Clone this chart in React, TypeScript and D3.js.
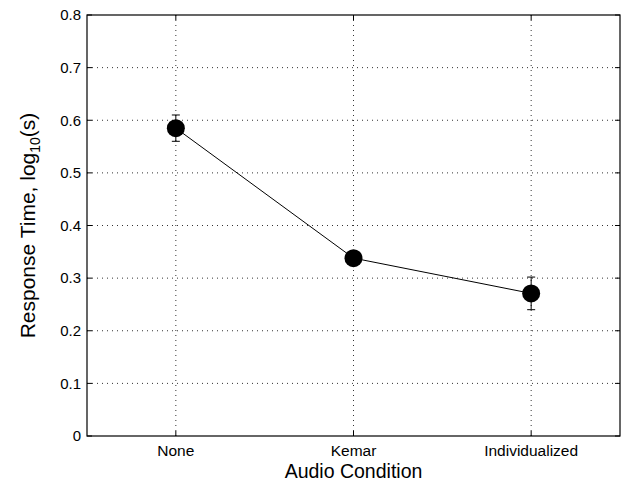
import * as React from "react";
import * as d3 from "d3";

const conditions = ["None", "Kemar", "Individualized"];
const meanRT = [0.585, 0.338, 0.271];
const errRT = [0.025, 0.006, 0.031];
const yTicks = [0, 0.1, 0.2, 0.3, 0.4, 0.5, 0.6, 0.7, 0.8];

const W = 622;
const H = 485;
const margin = { left: 87, right: 2, top: 15, bottom: 49 };

export default function App() {
  const innerW = W - margin.left - margin.right;
  const innerH = H - margin.top - margin.bottom;

  const x = d3.scaleLinear().domain([0.5, 3.5]).range([0, innerW]);
  const y = d3.scaleLinear().domain([0, 0.8]).range([innerH, 0]);

  const points = conditions.map((c, i) => ({ c, i: i + 1, m: meanRT[i], e: errRT[i] }));
  const line = d3.line<any>().x(d => x(d.i)).y(d => y(d.m));

  const font = "'Liberation Sans', Arial, Helvetica, sans-serif";
  const tickLen = 5;

  return (
    <svg width={W} height={H} style={{ position: "absolute", left: 0, top: 0, background: "#fff" }}
      fontFamily={font}>
      <g transform={`translate(${margin.left},${margin.top})`}>
        {/* grid */}
        {yTicks.slice(1, -1).map(t => (
          <line key={"gy" + t} x1={0} x2={innerW} y1={y(t)} y2={y(t)}
            stroke="#333" strokeWidth={1} strokeDasharray="1,4" />
        ))}
        {points.map(p => (
          <line key={"gx" + p.c} x1={x(p.i)} x2={x(p.i)} y1={0} y2={innerH}
            stroke="#333" strokeWidth={1} strokeDasharray="1,4" />
        ))}
        {/* ticks */}
        {yTicks.map(t => (
          <g key={"ty" + t}>
            <line x1={0} x2={tickLen} y1={y(t)} y2={y(t)} stroke="#000" />
            <line x1={innerW} x2={innerW - tickLen} y1={y(t)} y2={y(t)} stroke="#000" />
            <text x={-6} y={y(t)} dy="0.35em" textAnchor="end" fontSize={15}>{t === 0 ? "0" : t.toFixed(1)}</text>
          </g>
        ))}
        {points.map(p => (
          <g key={"tx" + p.c}>
            <line x1={x(p.i)} x2={x(p.i)} y1={innerH} y2={innerH - tickLen} stroke="#000" />
            <line x1={x(p.i)} x2={x(p.i)} y1={0} y2={tickLen} stroke="#000" />
            <text x={x(p.i)} y={innerH + 20} textAnchor="middle" fontSize={15.5}>{p.c}</text>
          </g>
        ))}
        <rect x={0} y={0} width={innerW} height={innerH} fill="none" stroke="#000" strokeWidth={1.2} />
        {/* data */}
        <path d={line(points) as string} fill="none" stroke="#000" strokeWidth={1} />
        {points.map(p => (
          <g key={"pt" + p.c}>
            <line x1={x(p.i)} x2={x(p.i)} y1={y(p.m - p.e)} y2={y(p.m + p.e)} stroke="#000" />
            <line x1={x(p.i) - 4} x2={x(p.i) + 4} y1={y(p.m - p.e)} y2={y(p.m - p.e)} stroke="#000" />
            <line x1={x(p.i) - 4} x2={x(p.i) + 4} y1={y(p.m + p.e)} y2={y(p.m + p.e)} stroke="#000" />
            <circle cx={x(p.i)} cy={y(p.m)} r={9} fill="#000" />
          </g>
        ))}
        {/* axis labels */}
        <text x={innerW / 2} y={innerH + 42} textAnchor="middle" fontSize={19.5}>Audio Condition</text>
        <text transform={`translate(${-52},${innerH / 2}) rotate(-90)`} textAnchor="middle" fontSize={21}>
          Response Time, log<tspan fontSize={14} dy={5}>10</tspan><tspan dy={-5}>(s)</tspan>
        </text>
      </g>
    </svg>
  );
}
